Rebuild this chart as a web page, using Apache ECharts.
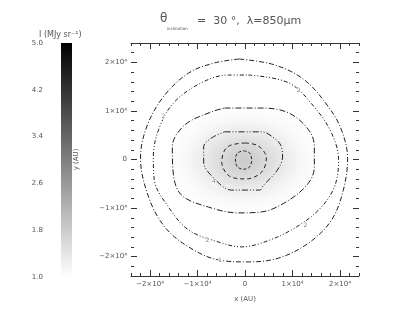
<!DOCTYPE html>
<html><head><meta charset="utf-8">
<script src="https://cdn.jsdelivr.net/npm/echarts@6/dist/echarts.min.js"></script>
<style>html,body{margin:0;padding:0;background:#fff}#c{width:402px;height:311px}</style>
</head><body><div id="c"></div>
<script>
// ---- data (AU, MJy/sr) ----
const axisRange = [-24000, 24000];
const majorTicks = [-20000, -10000, 0, 10000, 20000];
const minorTicks = [-24000,-22000,-18000,-16000,-14000,-12000,-8000,-6000,-4000,-2000,2000,4000,6000,8000,12000,14000,16000,18000,22000,24000];
const colorbarTicks = [1.0, 1.8, 2.6, 3.4, 4.2, 5.0];
const colorbarRange = [1.0, 5.0];
const glowCenter = [-200, -100];
const glowRadii = [17000, 11500];
const glowOffsets = [0, 0.15, 0.35, 0.55, 0.75, 1];
const glowValues = [1.8, 1.72, 1.5, 1.27, 1.1, 1.0];
const contour1 = [[-1200,20700],[6200,19500],[12500,16400],[17600,10800],[20300,6100],[21600,300],[20700,-6300],[18200,-12500],[13400,-17200],[7100,-20300],[700,-21100],[-5600,-20700],[-11900,-18000],[-16900,-13900],[-20300,-7700],[-22000,300],[-20700,6700],[-17200,12900],[-11900,17800],[-6400,19900]];
const contour2 = [[700,17400],[9200,15800],[14600,10800],[18200,5500],[19700,-100],[18800,-5700],[15500,-10400],[9800,-14500],[3500,-17200],[-700,-18000],[-5600,-17000],[-11900,-14500],[-16100,-9800],[-19100,-4200],[-19300,500],[-18200,6100],[-15100,11600],[-9200,15800],[-3500,17400]];
const contour3 = [[-4300,10600],[3500,10600],[9200,9600],[13400,6100],[14600,2600],[14600,-1500],[13400,-4800],[9200,-8400],[3500,-10800],[-1400,-11000],[-7700,-9800],[-13400,-7300],[-15100,-2800],[-15300,2600],[-12700,7100],[-7100,9800]];
const contour4 = [[-4300,5700],[3500,5700],[5600,4800],[7500,3000],[7900,500],[6800,-2200],[3900,-5300],[3100,-6300],[-2800,-6300],[-6600,-3800],[-8700,-500],[-8700,2600],[-7100,4400]];
const contour5 = [[0,3400],[2800,2800],[4500,300],[3500,-2600],[300,-4000],[-3300,-3400],[-4900,-500],[-3700,2600]];
const contour6 = [[-300,1800],[1000,1300],[1400,-100],[1000,-1500],[-300,-2000],[-1600,-1500],[-2000,-100],[-1600,1300]];
const contourLabels = [
  {name:'1', value:[-5300,-20800]},
  {name:'2', value:[11300,14300]},
  {name:'2', value:[-17200,8800]},
  {name:'2', value:[12700,-13500]},
  {name:'2', value:[-7900,-16600]},
  {name:'4', value:[-6600,-4600]}
];

// ---- helpers ----
function grayOf(v){
  let t = (v - colorbarRange[0]) / (colorbarRange[1] - colorbarRange[0]);
  t = Math.max(0, Math.min(1, t));
  const g = Math.round(255 * (1 - t));
  return 'rgb(' + g + ',' + g + ',' + g + ')';
}
const closed = a => a.concat([a[0]]);
const FONT = 'DejaVu Sans';
const txt = '#555';
const lineC = '#333';

function xAxisDef(pos, ticks, len, labels, line){
  return {type:'value', gridIndex:0, position:pos, min:axisRange[0], max:axisRange[1],
    axisLine:{show:line, onZero:false, lineStyle:{color:lineC, width:1}},
    axisTick:{show:true, inside:true, length:len, customValues:ticks, lineStyle:{color:lineC}},
    axisLabel:{show:labels, customValues:majorTicks, margin:5, fontFamily:FONT, fontSize:7, color:txt, formatter:fmt},
    splitLine:{show:false}};
}
function fmt(v){
  if (v === 0) return '0';
  const n = Math.round(v/10000);
  return (n < 0 ? '\u2212' : '') + Math.abs(n) + '\u00d710\u2074';
}
function yAxisDef(pos, ticks, len, labels){
  return {type:'value', gridIndex:0, position:pos, min:axisRange[0], max:axisRange[1],
    axisLine:{show:false, onZero:false},
    axisTick:{show:true, inside:true, length:len, customValues:ticks, lineStyle:{color:lineC}},
    axisLabel:{show:labels, customValues:majorTicks, margin:4, fontFamily:FONT, fontSize:7, color:txt, formatter:fmt},
    splitLine:{show:false}};
}

const xAxes = [
  Object.assign(xAxisDef('bottom', majorTicks, 6, true, true), {name:'x (AU)', nameLocation:'middle', nameGap:20, nameTextStyle:{fontFamily:FONT, fontSize:7, color:txt}}),
  xAxisDef('bottom', minorTicks, 3, false, false),
  xAxisDef('top', majorTicks, 6, false, true),
  xAxisDef('top', minorTicks, 3, false, false),
  {type:'value', gridIndex:1, min:0, max:1, show:false}
];
const yAxes = [
  Object.assign(yAxisDef('left', majorTicks, 6, true), {name:'y (AU)', nameLocation:'middle', nameGap:51, nameRotate:90, nameTextStyle:{fontFamily:FONT, fontSize:7, color:txt}}),
  yAxisDef('left', minorTicks, 3, false),
  yAxisDef('right', majorTicks, 6, false),
  yAxisDef('right', minorTicks, 3, false),
  {type:'value', gridIndex:1, min:colorbarRange[0], max:colorbarRange[1],
   axisLine:{show:false}, axisTick:{show:false}, splitLine:{show:false},
   axisLabel:{customValues:colorbarTicks, margin:18, fontFamily:FONT, fontSize:7, color:txt, formatter:v=>v.toFixed(1)}}
];

function contourSeries(data, dash){
  return {type:'line', xAxisIndex:0, yAxisIndex:0, data:closed(data), smooth:0.35, symbol:'none', z:5,
    lineStyle:{color:'#222', width:1, type:dash}, silent:true, animation:false};
}

const chart = echarts.init(document.getElementById('c'), null, {renderer:'canvas'});
chart.setOption({
  animation:false,
  backgroundColor:'#fff',
  title:[
    {text:'\u03b8', left:155, top:8, textStyle:{fontFamily:FONT, fontSize:12, fontWeight:'normal', color:txt}},
    {text:'inclination', left:162, top:22, textStyle:{fontFamily:FONT, fontSize:4, fontWeight:'normal', color:txt}},
    {text:'=  30 \u00b0,  \u03bb=850\u03bcm', left:192, top:11, textStyle:{fontFamily:FONT, fontSize:11, fontWeight:'normal', color:txt}},
    {text:'I (MJy sr\u207b\u00b9)', left:34, top:26, textStyle:{fontFamily:FONT, fontSize:8, fontWeight:'normal', color:txt}}
  ],
  grid:[
    {left:131, right:43, top:43, bottom:35},
    {left:61, width:11, top:43, bottom:34}
  ],
  xAxis:xAxes,
  yAxis:yAxes,
  series:[
    {type:'custom', xAxisIndex:4, yAxisIndex:4, data:[[0, colorbarRange[1]]], z:2, silent:true,
     renderItem:function(params, api){
       const p0 = api.coord([0, colorbarRange[1]]);
       const p1 = api.coord([1, colorbarRange[0]]);
       const stops = colorbarTicks.map(v => ({offset:(colorbarRange[1]-v)/(colorbarRange[1]-colorbarRange[0]), color:grayOf(v)}));
       return {type:'rect', shape:{x:p0[0], y:p0[1], width:p1[0]-p0[0], height:p1[1]-p0[1]},
         style:{fill:new echarts.graphic.LinearGradient(0,0,0,1, stops)}};
     }},
    {type:'custom', xAxisIndex:0, yAxisIndex:0, data:[glowCenter], z:1, silent:true, clip:true,
     renderItem:function(params, api){
       const c = api.coord([api.value(0), api.value(1)]);
       const s = api.size([glowRadii[0], glowRadii[1]]);
       const stops = glowOffsets.map((o,i) => ({offset:o, color:grayOf(glowValues[i])}));
       return {type:'circle', x:c[0], y:c[1], scaleX:s[0]/s[1], scaleY:1,
         shape:{cx:0, cy:0, r:s[1]},
         style:{fill:new echarts.graphic.RadialGradient(0.5,0.5,0.5, stops)}};
     }},
    contourSeries(contour1, [5,2,1,2]),
    contourSeries(contour2, [4,2,1,2,1,2]),
    contourSeries(contour3, [6,2,1,2]),
    contourSeries(contour4, [6,2,1,2,1,2]),
    contourSeries(contour5, [4,3]),
    contourSeries(contour6, [3,2]),
    {type:'scatter', xAxisIndex:0, yAxisIndex:0, data:contourLabels, symbolSize:0, z:6, silent:true,
     label:{show:true, position:'inside', formatter:p=>p.name, fontFamily:FONT, fontSize:6, color:'#666', backgroundColor:'#fff', padding:0}}
  ]
});
</script>
</body></html>
